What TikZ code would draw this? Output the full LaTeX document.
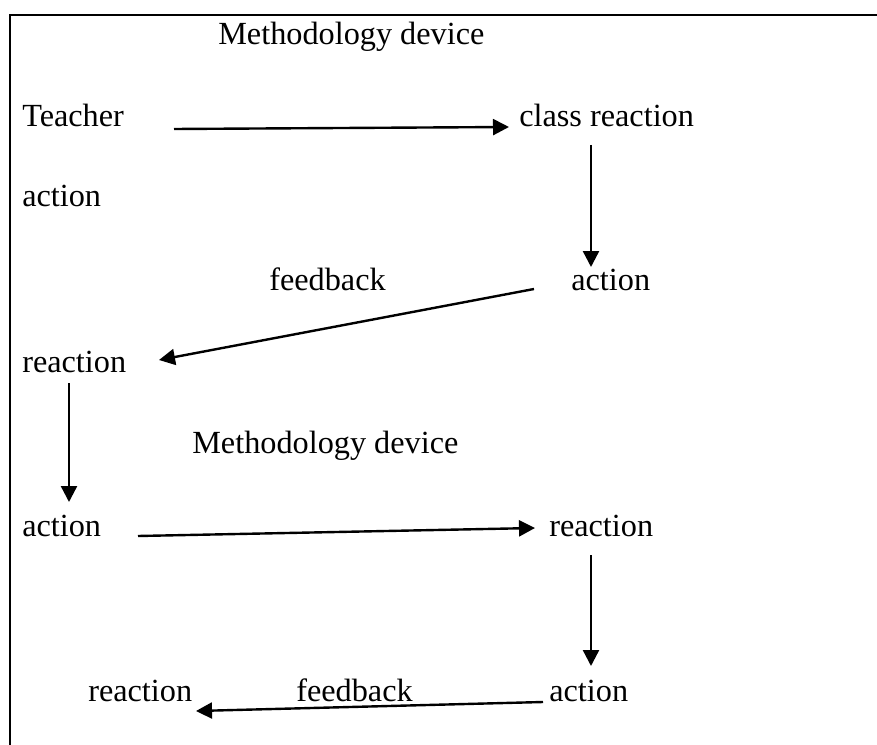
\documentclass[tikz,border=0pt]{standalone}
\usepackage{fontspec}
\setmainfont{Liberation Serif}
\usetikzlibrary{arrows.meta}
\begin{document}
\begin{tikzpicture}[x=0.75pt,y=-0.75pt,
  lbl/.style={inner sep=0pt,anchor=base west,font=\fontsize{24.2}{29}\selectfont},
  arr/.style={line width=1.8pt,-{Triangle[length=12pt,width=12pt]}},
  frame/.style={line width=1.8pt}]
\useasboundingbox (0,0) rectangle (877,745);
\draw[frame] (10,745) -- (10,15) -- (877,15);
% labels
\node[lbl] (m1) at (218,45) {Methodology device};
\node[lbl] (teacher) at (22,127) {Teacher};
\node[lbl] (class) at (519,127) {class reaction};
\node[lbl] (act1) at (22,207) {action};
\node[lbl] (fb1) at (269,290) {feedback};
\node[lbl] (act2) at (571,290) {action};
\node[lbl] (re1) at (22,372) {reaction};
\node[lbl] (m2) at (192,453) {Methodology device};
\node[lbl] (act3) at (22,536) {action};
\node[lbl] (re2) at (549,536) {reaction};
\node[lbl] (re3) at (88,701) {reaction};
\node[lbl] (fb2) at (296,701) {feedback};
\node[lbl] (act4) at (549,701) {action};
% connector ends
\coordinate (a1s) at (174,129); \coordinate (a1e) at (509,127);
\coordinate (a2s) at (591,145); \coordinate (a2e) at (591,267);
\coordinate (a3s) at (534,289); \coordinate (a3e) at (159,360);
\coordinate (a4s) at (69,383);  \coordinate (a4e) at (69,502);
\coordinate (a5s) at (138,536); \coordinate (a5e) at (535,528);
\coordinate (a6s) at (591,555); \coordinate (a6e) at (591,666);
\coordinate (a7s) at (543,702); \coordinate (a7e) at (196,711);
\draw[arr] (a1s) -- (a1e);
\draw[arr] (a2s) -- (a2e);
\draw[arr] (a3s) -- (a3e);
\draw[arr] (a4s) -- (a4e);
\draw[arr] (a5s) -- (a5e);
\draw[arr] (a6s) -- (a6e);
\draw[arr] (a7s) -- (a7e);
\end{tikzpicture}
\end{document}
